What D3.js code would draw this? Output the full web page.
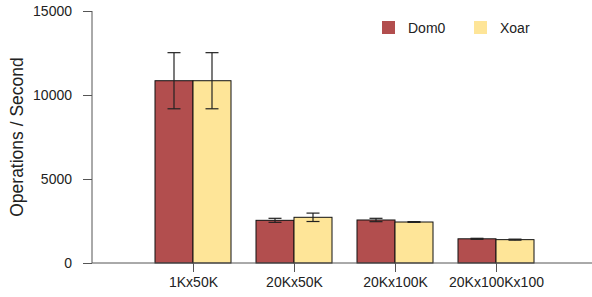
<!DOCTYPE html>
<html>
<head>
<meta charset="utf-8">
<script src="https://cdn.jsdelivr.net/npm/d3@7"></script>
<style>
  body { margin: 0; background: #fff; }
  text { font-family: "Liberation Sans", Arial, sans-serif; fill: #222; }
</style>
</head>
<body>
<svg width="592" height="297"></svg>
<script>
var categories = ["1Kx50K", "20Kx50K", "20Kx100K", "20Kx100Kx100"];
var series = ["Dom0", "Xoar"];
var dom0 = [10850, 2540, 2560, 1440];
var dom0Err = [1670, 120, 100, 30];
var xoar = [10850, 2720, 2440, 1390];
var xoarErr = [1670, 250, 25, 30];
var yTicks = [0, 5000, 10000, 15000];
var colors = ["#b24e4e", "#fee598"];

var svg = d3.select("svg"),
    height = +svg.attr("height");

// category slots at 1..4, axis runs a bit past the last one
var x = d3.scaleLinear().domain([0, 5]).range([92, 597]);
var y = d3.scaleLinear().domain([0, 15000]).range([263, 11]);
var barW = 38;

var values = [dom0, xoar], errs = [dom0Err, xoarErr];

// bars
series.forEach(function (s, si) {
    svg.append("g").selectAll("rect")
        .data(values[si])
        .enter().append("rect")
        .attr("x", function (d, i) { return x(i + 1) - barW + si * barW; })
        .attr("y", function (d) { return y(d); })
        .attr("width", barW)
        .attr("height", function (d) { return y(0) - y(d); })
        .attr("fill", colors[si])
        .attr("stroke", "#111")
        .attr("stroke-width", 1);
});

// error bars
series.forEach(function (s, si) {
    var g = svg.append("g").attr("stroke", "#222").attr("stroke-width", 1.2);
    values[si].forEach(function (v, i) {
        var cx = x(i + 1) - barW / 2 + si * barW;
        var e = errs[si][i];
        g.append("line").attr("x1", cx).attr("x2", cx).attr("y1", y(v + e)).attr("y2", y(v - e));
        g.append("line").attr("x1", cx - 6.5).attr("x2", cx + 6.5).attr("y1", y(v + e)).attr("y2", y(v + e));
        g.append("line").attr("x1", cx - 6.5).attr("x2", cx + 6.5).attr("y1", y(v - e)).attr("y2", y(v - e));
    });
});

// y axis
var yAxis = svg.append("g")
    .attr("transform", "translate(92,0)")
    .call(d3.axisLeft(y).tickValues(yTicks).tickFormat(d3.format("d")).tickSize(9).tickPadding(11));
yAxis.select(".domain").attr("stroke", "#555").attr("d", "M0," + y(15000) + "V" + y(0));
yAxis.selectAll(".tick line").attr("stroke", "#555");
yAxis.selectAll(".tick text").attr("font-size", "14px").attr("fill", "#222")
    .attr("font-family", "Liberation Sans, Arial, sans-serif");

// x axis
var xAxis = svg.append("g")
    .attr("transform", "translate(0," + y(0) + ")")
    .call(d3.axisBottom(x).tickValues([1, 2, 3, 4])
        .tickFormat(function (d) { return categories[d - 1]; })
        .tickSize(9).tickPadding(5));
xAxis.select(".domain").attr("stroke", "#555").attr("d", "M92,0H597");
xAxis.selectAll(".tick line").attr("stroke", "#555");
xAxis.selectAll(".tick text").attr("font-size", "14px").attr("fill", "#222")
    .attr("font-family", "Liberation Sans, Arial, sans-serif");

// y label
svg.append("text")
    .attr("transform", "translate(23," + ((y(0) + y(15000)) / 2) + ") rotate(-90)")
    .attr("text-anchor", "middle")
    .attr("font-size", "17.5px")
    .text("Operations / Second");

// legend
var legend = svg.append("g").attr("transform", "translate(382,21)");
series.forEach(function (s, si) {
    var lg = legend.append("g").attr("transform", "translate(" + (si * 92) + ",0)");
    lg.append("rect").attr("width", 13).attr("height", 13).attr("fill", colors[si]);
    lg.append("text").attr("x", 26).attr("y", 12).attr("font-size", "14px").text(s);
});
</script>
</body>
</html>
